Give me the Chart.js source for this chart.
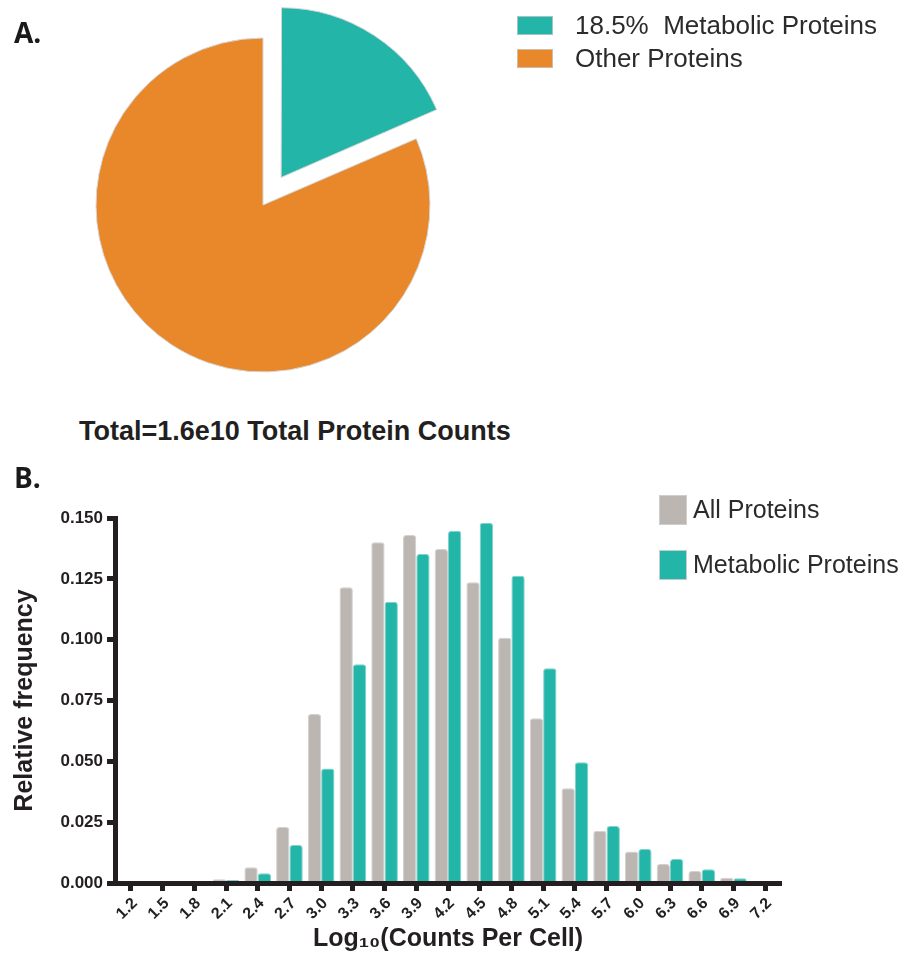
<!DOCTYPE html>
<html>
<head>
<meta charset="utf-8">
<script src="https://cdn.jsdelivr.net/npm/chart.js@4.4.1/dist/chart.umd.min.js"></script>
<style>
  html, body { margin: 0; padding: 0; background: #fff; }
  #page { position: relative; width: 909px; height: 959px; overflow: hidden; }
  canvas { position: absolute; left: 0; }
  #pieChart { top: 0; }
  #barChart { top: 470px; }
  .panel { position: absolute; left: 14px; font: 700 28px 'Open Sans', sans-serif; line-height: 1; color: #1a1a1a; }
  #pieTotal { position: absolute; left: 79px; top: 418px; font: 700 27px 'Liberation Sans', Arial, sans-serif; line-height: 1; color: #231f20; }
</style>
</head>
<body>
<div id="page">
  <canvas id="pieChart" width="909" height="410"></canvas>
  <canvas id="barChart" width="909" height="489"></canvas>
  <div class="panel" style="top:18px">A.</div>
  <div id="pieTotal">Total=1.6e10 Total Protein Counts</div>
  <div class="panel" style="top:463px">B.</div>
</div>
<script>
// Panel A: share of total protein counts
const pieLabels = ['18.5%  Metabolic Proteins', 'Other Proteins'];
const pieValues = [18.5, 81.5];

// Panel B: histogram of log10 counts per cell
const binLabels = ['1.2', '1.5', '1.8', '2.1', '2.4', '2.7', '3.0', '3.3', '3.6', '3.9', '4.2',
  '4.5', '4.8', '5.1', '5.4', '5.7', '6.0', '6.3', '6.6', '6.9', '7.2'];
const allProteins = [0.0004, 0.0004, 0.0006, 0.0015, 0.0065, 0.0230, 0.0695, 0.1215, 0.1400, 0.1430, 0.1373,
  0.1236, 0.1008, 0.0677, 0.0389, 0.0215, 0.0129, 0.0078, 0.0049, 0.0022, 0.0005];
const metabolicProteins = [0.0002, 0.0002, 0.0005, 0.0012, 0.0040, 0.0156, 0.0471, 0.0899, 0.1156, 0.1352, 0.1448,
  0.1480, 0.1263, 0.0883, 0.0496, 0.0234, 0.0140, 0.0099, 0.0056, 0.0020, 0.0003];
const yTicks = [0, 0.025, 0.05, 0.075, 0.1, 0.125, 0.15];

const TEAL = '#22b5a8';
const ORANGE = '#e9872b';
const GRAY = '#bcb6b2';
const AXIS = '#231f20';
const SANS = "'Liberation Sans', Arial, sans-serif";

// legend drawn at a fixed spot (the bar legend sits inside the plot area)
const boxLegend = {
  id: 'boxLegend',
  afterDraw(chart, args, opts) {
    const items = chart.options.plugins.legend.labels.generateLabels(chart);
    const ctx = chart.ctx;
    ctx.save();
    ctx.font = opts.font;
    ctx.textBaseline = 'middle';
    ctx.textAlign = 'left';
    items.forEach((item, i) => {
      const y = opts.y + i * opts.rowHeight;
      ctx.fillStyle = item.fillStyle;
      ctx.fillRect(opts.x, y, opts.boxWidth, opts.boxHeight);
      ctx.strokeStyle = opts.boxBorder;
      ctx.lineWidth = 1;
      ctx.strokeRect(opts.x + 0.5, y + 0.5, opts.boxWidth - 1, opts.boxHeight - 1);
      ctx.fillStyle = opts.color;
      ctx.fillText(item.text, opts.x + opts.boxWidth + opts.gap, y + opts.boxHeight / 2 + 1);
    });
    ctx.restore();
  }
};

new Chart(document.getElementById('pieChart'), {
  type: 'pie',
  data: {
    labels: pieLabels,
    datasets: [{
      data: pieValues,
      backgroundColor: [TEAL, ORANGE],
      borderColor: '#d6d6d6',
      borderWidth: 1,
      offset: [132, 0],
      radius: 167
    }]
  },
  options: {
    responsive: false,
    animation: false,
    layout: { padding: { left: 0, right: 383, top: 0, bottom: 0 } },
    plugins: {
      legend: { display: false },
      tooltip: { enabled: false },
      boxLegend: {
        x: 517, y: 16, boxWidth: 36, boxHeight: 19, rowHeight: 33, gap: 22,
        font: '26px ' + SANS, color: '#2b2b2b', boxBorder: 'rgba(200,200,200,0.8)'
      }
    }
  },
  plugins: [boxLegend]
});

const axisGrid = { drawOnChartArea: false, drawTicks: true, tickLength: 8, tickWidth: 5, tickColor: AXIS, z: 1 };
const axisBorder = { display: true, width: 5, color: AXIS, z: 1 };

new Chart(document.getElementById('barChart'), {
  type: 'bar',
  data: {
    labels: binLabels,
    datasets: [
      {
        label: 'All Proteins',
        data: allProteins,
        backgroundColor: GRAY,
        borderColor: '#d4d0cd',
        borderWidth: 1,
        borderRadius: { topLeft: 3, topRight: 3 },
        borderSkipped: 'bottom'
      },
      {
        label: 'Metabolic Proteins',
        data: metabolicProteins,
        backgroundColor: TEAL,
        borderColor: '#7fd3cb',
        borderWidth: 1,
        borderRadius: { topLeft: 3, topRight: 3 },
        borderSkipped: 'bottom'
      }
    ]
  },
  options: {
    responsive: false,
    animation: false,
    layout: { padding: { left: 0, right: 128, top: 48, bottom: 0 } },
    datasets: { bar: { categoryPercentage: 0.84, barPercentage: 1 } },
    scales: {
      x: {
        offset: true,
        grid: Object.assign({ offset: false }, axisGrid),
        border: axisBorder,
        ticks: {
          color: AXIS,
          font: { family: SANS, size: 16, weight: 'bold' },
          minRotation: 45, maxRotation: 45, autoSkip: false, padding: 3, labelOffset: 4
        },
        title: {
          display: true, text: 'Log₁₀(Counts Per Cell)', color: AXIS,
          font: { family: SANS, size: 25, weight: 'bold' }, padding: { top: 0, bottom: 5 }
        },
        afterFit: (s) => { s.height = 76; }
      },
      y: {
        min: 0,
        max: 0.15,
        afterBuildTicks: (s) => { s.ticks = yTicks.map(v => ({ value: v })); },
        grid: axisGrid,
        border: axisBorder,
        ticks: {
          color: AXIS,
          font: { family: SANS, size: 17, weight: 'bold' },
          padding: 4,
          callback: (v) => Number(v).toFixed(3)
        },
        title: {
          display: true, text: 'Relative frequency', color: AXIS,
          font: { family: SANS, size: 25, weight: 'bold' }, padding: { top: 10, bottom: 0 }
        },
        afterFit: (s) => { s.width = 115; }
      }
    },
    plugins: {
      legend: { display: false },
      tooltip: { enabled: false },
      boxLegend: {
        x: 659, y: 25, boxWidth: 28, boxHeight: 30, rowHeight: 55, gap: 6,
        font: '25px ' + SANS, color: '#2b2b2b', boxBorder: 'rgba(210,210,210,0.9)'
      }
    }
  },
  plugins: [boxLegend]
});
</script>
</body>
</html>
